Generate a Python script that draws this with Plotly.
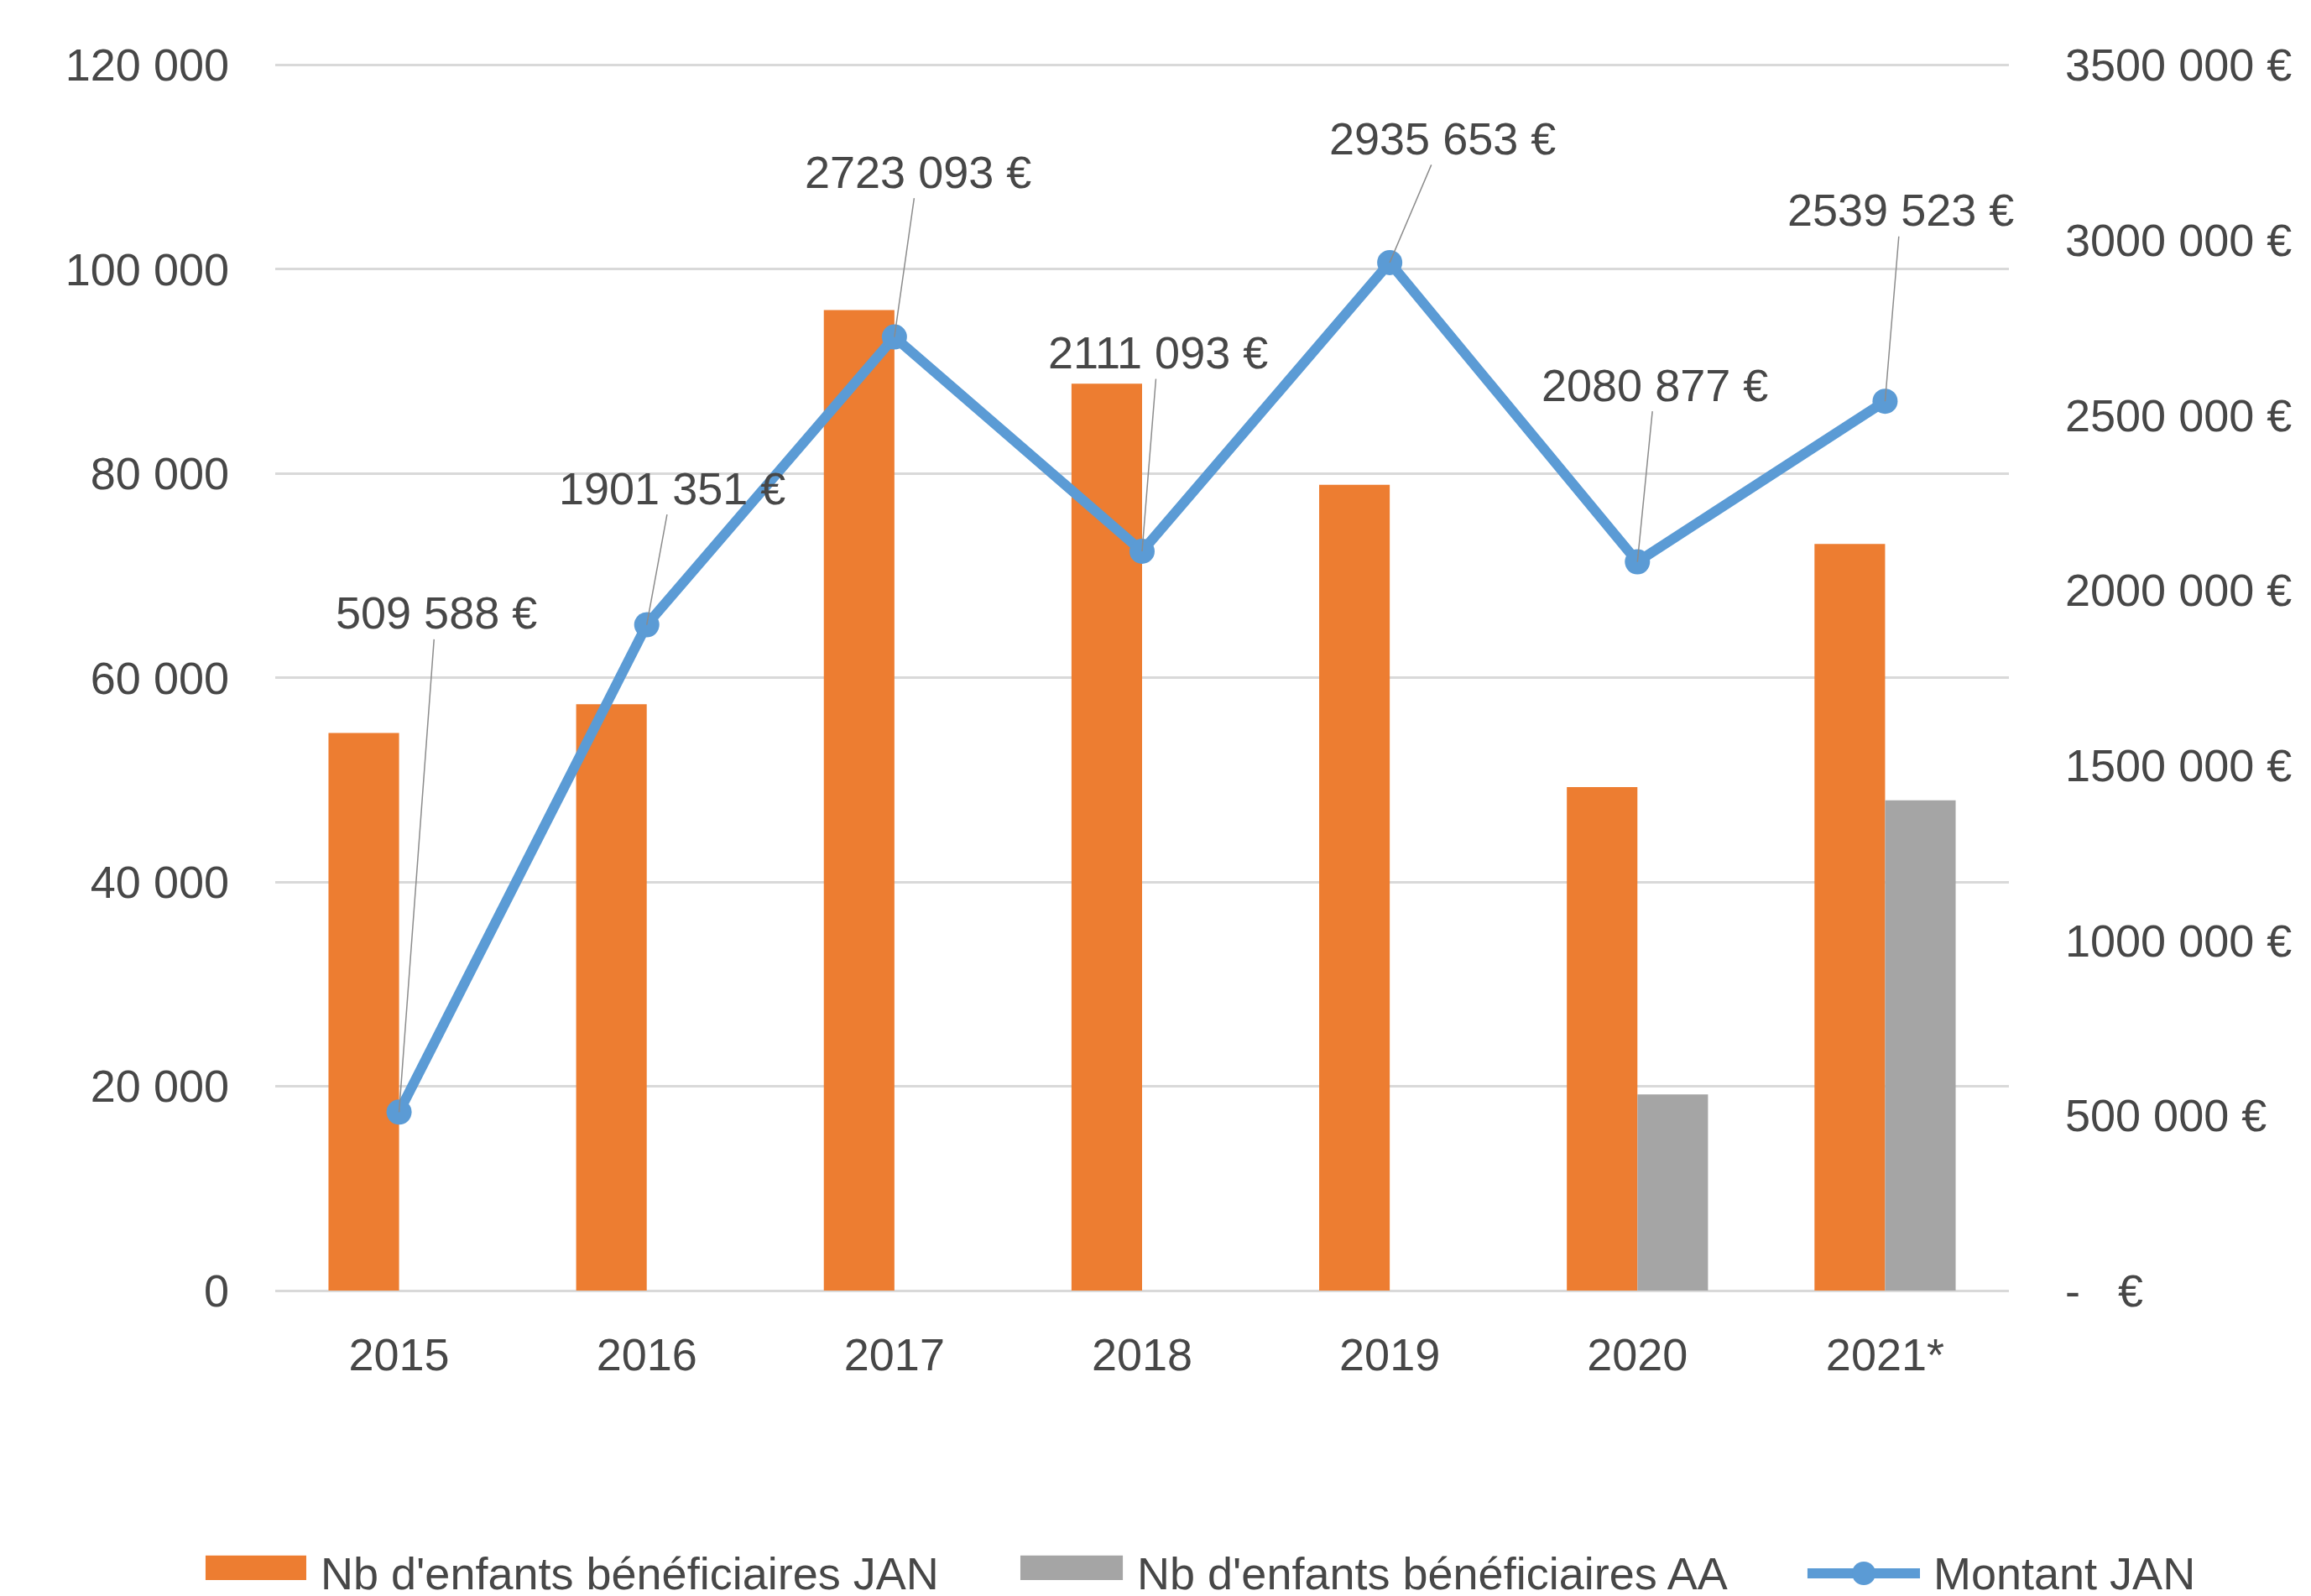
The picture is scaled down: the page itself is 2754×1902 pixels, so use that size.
import plotly.graph_objects as go

years = ["2015", "2016", "2017", "2018", "2019", "2020", "2021*"]
nb_jan = [54600, 57400, 96000, 88800, 78900, 49300, 73100]
nb_aa = [None, None, None, None, None, 19200, 48000]
montant_jan = [509588, 1901351, 2723093, 2111093, 2935653, 2080877, 2539523]
montant_labels = ["509 588 €", "1901 351 €", "2723 093 €", "2111 093 €",
                  "2935 653 €", "2080 877 €", "2539 523 €"]

left_tickvals = [0, 20000, 40000, 60000, 80000, 100000, 120000]
left_ticktext = ["0", "20 000", "40 000", "60 000", "80 000", "100 000", "120 000"]
right_tickvals = [0, 500000, 1000000, 1500000, 2000000, 2500000, 3000000, 3500000]
right_ticktext = ["-   €", "500 000 €", "1000 000 €", "1500 000 €", "2000 000 €",
                  "2500 000 €", "3000 000 €", "3500 000 €"]

series_names = ["Nb d'enfants bénéficiaires JAN", "Nb d'enfants bénéficiaires AA", "Montant JAN"]
ORANGE, GRAY, BLUE = "#ED7D31", "#A5A5A5", "#5B9BD5"

# label offsets (px) for the leader-line data labels
label_dx = [44, 30, 28, 19, 63, 21, 19]
label_dy = [-595, -163, -197, -237, -148, -211, -228]

FONT = "Liberation Sans, Arial, sans-serif"
TXT = "#474747"
FS = 54
EPS = 1.003  # lets the top gridline render just inside the range edge

fig = go.Figure()
fig.add_trace(go.Bar(x=years, y=nb_jan, name=series_names[0], showlegend=False,
                     marker=dict(color=ORANGE, line=dict(width=0))))
fig.add_trace(go.Bar(x=years, y=nb_aa, name=series_names[1], showlegend=False,
                     marker=dict(color=GRAY, line=dict(width=0))))
fig.add_trace(go.Scatter(x=years, y=montant_jan, name=series_names[2], yaxis="y2",
                         mode="lines+markers", showlegend=False,
                         line=dict(color=BLUE, width=12),
                         marker=dict(color=BLUE, size=30)))

for i, (v, lab) in enumerate(zip(montant_jan, montant_labels)):
    fig.add_annotation(x=i, y=v, xref="x", yref="y2", text=lab,
                       showarrow=True, arrowhead=0, arrowwidth=1.5,
                       arrowcolor="#8C8C8C", ax=label_dx[i], ay=label_dy[i],
                       font=dict(family=FONT, size=FS, color=TXT))

# custom legend (wide swatches like the original)
LY0, LY1, LYC = -0.2355, -0.2156, -0.2300
fig.add_shape(type="rect", xref="paper", yref="paper", x0=-0.0402, x1=0.0179,
              y0=LY0, y1=LY1, fillcolor=ORANGE, line=dict(width=0))
fig.add_shape(type="rect", xref="paper", yref="paper", x0=0.4298, x1=0.4889,
              y0=LY0, y1=LY1, fillcolor=GRAY, line=dict(width=0))
fig.add_shape(type="line", xref="paper", yref="paper", x0=0.8838, x1=0.9487,
              y0=LYC, y1=LYC, line=dict(color=BLUE, width=12))
fig.add_shape(type="circle", xref="paper", yref="paper", x0=0.9095, x1=0.9231,
              y0=-0.2396, y1=-0.2204, fillcolor=BLUE, line=dict(width=0))
for xpos, name in zip([0.0252, 0.4961, 0.9555], series_names):
    fig.add_annotation(xref="paper", yref="paper", x=xpos, y=LYC, text=name,
                       showarrow=False, xanchor="left", yanchor="middle",
                       font=dict(family=FONT, size=FS, color=TXT))

fig.update_layout(
    width=2754, height=1902,
    margin=dict(l=320, r=368, t=65, b=372),
    paper_bgcolor="white", plot_bgcolor="white",
    barmode="group", bargap=0.43, bargroupgap=0,
    font=dict(family=FONT, size=FS, color=TXT),
    showlegend=False,
    xaxis=dict(type="category", range=[-0.5, 6.5], showgrid=False, showline=False,
               zeroline=False, ticks="", ticklabelstandoff=40,
               tickfont=dict(family=FONT, size=FS, color=TXT)),
    yaxis=dict(range=[0, 120000 * EPS], tickvals=left_tickvals, ticktext=left_ticktext,
               showgrid=True, gridcolor="#D9D9D9", gridwidth=3,
               zeroline=True, zerolinecolor="#D9D9D9", zerolinewidth=3,
               showline=False, ticks="", ticklabelstandoff=54,
               tickfont=dict(family=FONT, size=FS, color=TXT)),
    yaxis2=dict(range=[0, 3500000 * EPS], overlaying="y", side="right",
                tickvals=right_tickvals, ticktext=right_ticktext,
                showgrid=False, zeroline=False, showline=False, ticks="",
                ticklabelstandoff=66,
                tickfont=dict(family=FONT, size=FS, color=TXT)),
)

fig.write_html("out.html")
